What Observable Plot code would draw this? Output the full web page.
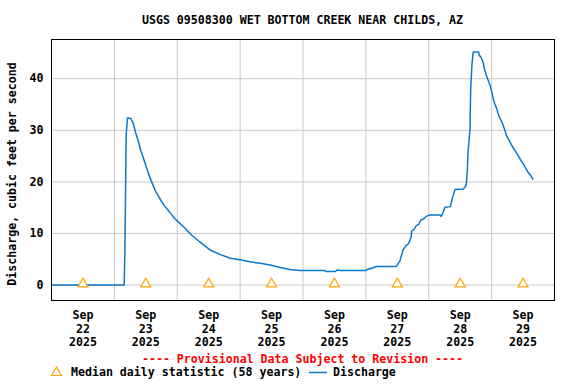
<!DOCTYPE html>
<html><head><meta charset="utf-8">
<script src="https://cdn.jsdelivr.net/npm/d3@7"></script>
<script src="https://cdn.jsdelivr.net/npm/@observablehq/plot@0.6"></script>
<style>
body{margin:0;background:#fff;}
#wrap{position:relative;width:576px;height:384px;font-family:"DejaVu Sans Mono",monospace;font-weight:bold;font-size:11.6px;color:#000;overflow:hidden;}
#wrap svg{position:absolute;left:0;top:0;}
.abs{position:absolute;white-space:pre;line-height:14px;}
</style></head><body><div id="wrap"></div>
<script>
const title = "USGS 09508300 WET BOTTOM CREEK NEAR CHILDS, AZ";
const yLabel = "Discharge, cubic feet per second";
const provisional = "---- Provisional Data Subject to Revision ----";
const medianLabel = "Median daily statistic (58 years)";
const dischargeLabel = "Discharge";

const times = [
"2025-09-22T00:00","2025-09-23T03:45","2025-09-23T04:00","2025-09-23T04:15","2025-09-23T04:30","2025-09-23T04:45","2025-09-23T05:00","2025-09-23T06:15","2025-09-23T07:15","2025-09-23T08:00",
"2025-09-23T09:00","2025-09-23T10:15","2025-09-23T11:45","2025-09-23T13:00","2025-09-23T14:15","2025-09-23T15:30","2025-09-23T16:45","2025-09-23T18:00","2025-09-23T19:15","2025-09-23T20:30",
"2025-09-23T21:45","2025-09-23T23:00","2025-09-24T00:30","2025-09-24T01:45","2025-09-24T03:00","2025-09-24T05:00","2025-09-24T08:45","2025-09-24T12:30","2025-09-24T16:30","2025-09-24T20:15",
"2025-09-25T00:00","2025-09-25T03:45","2025-09-25T07:45","2025-09-25T11:30","2025-09-25T15:15","2025-09-25T19:00","2025-09-25T23:00","2025-09-26T08:30","2025-09-26T08:45","2025-09-26T12:15",
"2025-09-26T13:00","2025-09-26T14:15","2025-09-27T00:00","2025-09-27T00:30","2025-09-27T02:30","2025-09-27T04:00","2025-09-27T11:30","2025-09-27T12:00","2025-09-27T13:00","2025-09-27T13:45",
"2025-09-27T14:15","2025-09-27T15:15","2025-09-27T16:15","2025-09-27T17:15","2025-09-27T17:30","2025-09-27T18:15","2025-09-27T19:15","2025-09-27T20:15","2025-09-27T21:00","2025-09-27T22:15",
"2025-09-27T23:00","2025-09-28T00:30","2025-09-28T04:15","2025-09-28T04:45","2025-09-28T05:30","2025-09-28T06:15","2025-09-28T08:15","2025-09-28T09:00","2025-09-28T10:00","2025-09-28T13:15",
"2025-09-28T14:15","2025-09-28T14:30","2025-09-28T14:45","2025-09-28T15:00","2025-09-28T15:30","2025-09-28T15:45","2025-09-28T16:00","2025-09-28T16:30","2025-09-28T16:45","2025-09-28T17:00",
"2025-09-28T19:00","2025-09-28T19:15","2025-09-28T20:00","2025-09-28T20:45","2025-09-28T21:15","2025-09-28T22:00","2025-09-28T22:45","2025-09-28T23:30","2025-09-29T00:15","2025-09-29T01:00",
"2025-09-29T02:00","2025-09-29T02:45","2025-09-29T04:00","2025-09-29T05:00","2025-09-29T05:45","2025-09-29T06:45","2025-09-29T07:45","2025-09-29T09:00","2025-09-29T10:15","2025-09-29T11:15",
"2025-09-29T12:15","2025-09-29T13:15","2025-09-29T14:00","2025-09-29T15:00","2025-09-29T15:45"
];
const discharge = [
0,0,5.9,17.5,29.3,30.7,32.4,32.3,31.3,29.7,
28.1,25.8,23.6,21.6,20.0,18.4,17.3,16.2,15.3,14.5,
13.7,12.9,12.2,11.6,11.0,9.9,8.3,6.8,5.9,5.2,
4.9,4.5,4.2,3.9,3.4,3.0,2.8,2.8,2.6,2.6,
2.9,2.8,2.8,3.0,3.3,3.6,3.6,3.9,4.7,6.0,
6.9,7.6,8.0,9.2,10.5,10.7,11.5,11.8,12.6,12.9,
13.3,13.6,13.6,13.3,14.1,15.1,15.2,16.8,18.5,18.6,
19.3,20.5,22.4,25.7,28.9,30.2,38.0,42.8,44.1,45.2,
45.2,44.6,44.1,43.2,41.9,40.6,39.6,38.6,37.0,35.4,
34.1,32.8,31.5,30.1,28.9,28.0,27.0,26.0,25.0,24.1,
23.4,22.4,21.8,21.2,20.5
];

const medianDays = ["2025-09-22T12:00","2025-09-23T12:00","2025-09-24T12:00","2025-09-25T12:00","2025-09-26T12:00","2025-09-27T12:00","2025-09-28T12:00","2025-09-29T12:00"];
const medianValues = [0,0,0,0,0,0,0,0];
const tickLabels = ["Sep\n22\n2025","Sep\n23\n2025","Sep\n24\n2025","Sep\n25\n2025","Sep\n26\n2025","Sep\n27\n2025","Sep\n28\n2025","Sep\n29\n2025"];
const gridDays = ["2025-09-23T00:00","2025-09-24T00:00","2025-09-25T00:00","2025-09-26T00:00","2025-09-27T00:00","2025-09-28T00:00","2025-09-29T00:00"];
const xDomain = ["2025-09-22T00:00","2025-09-30T00:00"];
const yTicks = [0,10,20,30,40];
const yDomain = [-3.0, 47.6];

const BLUE = "#0a78cc", ORANGE = "#ffa500", GRID = "#c8c8c8";
const parse = s => new Date(s + ":00Z");
const data = times.map((t,i) => ({t: parse(t), v: discharge[i]}));
const med = medianDays.map((t,i) => ({t: parse(t), v: medianValues[i]}));
const labelMap = new Map(medianDays.map((t,i) => [+parse(t), tickLabels[i]]));

const chart = Plot.plot({
  width: 576, height: 384,
  marginTop: 39, marginBottom: 84, marginLeft: 51, marginRight: 22,
  style: {fontFamily: '"DejaVu Sans Mono", monospace', fontSize: "11.6px", fontWeight: "bold", color: "#000", background: "transparent"},
  x: {type: "utc", domain: xDomain.map(parse)},
  y: {domain: yDomain},
  marks: [
    Plot.gridY(yTicks, {stroke: GRID, strokeOpacity: 1}),
    Plot.gridX(gridDays.map(parse), {stroke: GRID, strokeOpacity: 1}),
    Plot.axisY(yTicks, {tickSize: 0, tickPadding: 8, label: null}),
    Plot.axisX(medianDays.map(parse), {tickSize: 0, tickPadding: 9, lineHeight: 1.17, tickFormat: d => labelMap.get(+d), label: null}),
    Plot.line(data, {x: "t", y: "v", stroke: BLUE, strokeWidth: 1.5}),
    Plot.dot(med, {x: "t", y: "v", symbol: "triangle", r: 3.7, stroke: ORANGE, fill: "white", strokeWidth: 1.2, dy: -1}),
    Plot.frame({stroke: "#000"})
  ]
});

const wrap = document.getElementById("wrap");
wrap.appendChild(chart);
function addText(txt, css) {
  const d = document.createElement("div");
  d.className = "abs";
  d.textContent = txt;
  Object.assign(d.style, css);
  wrap.appendChild(d);
  return d;
}
addText(title, {left: "51px", width: "503px", textAlign: "center", top: "13px"});
addText(yLabel, {left: "12px", top: "174px", transform: "translate(-50%,-50%) rotate(-90deg)"});
addText(provisional, {left: "51px", width: "503px", textAlign: "center", top: "352px", color: "#ff0000"});
addText(medianLabel, {left: "71px", top: "365px"});
addText(dischargeLabel, {left: "333px", top: "365px"});
// legend symbols
const ns = "http://www.w3.org/2000/svg";
const leg = document.createElementNS(ns, "svg");
leg.setAttribute("width", 576); leg.setAttribute("height", 384);
leg.style.position = "absolute"; leg.style.left = "0"; leg.style.top = "0"; leg.style.pointerEvents = "none";
leg.innerHTML = `<polygon points="56.5,367 51.5,375.5 61.5,375.5" fill="white" stroke="${ORANGE}" stroke-width="1.2"/>
<line x1="309" x2="327" y1="372.5" y2="372.5" stroke="${BLUE}" stroke-width="1.5"/>`;
wrap.appendChild(leg);
</script></body></html>
